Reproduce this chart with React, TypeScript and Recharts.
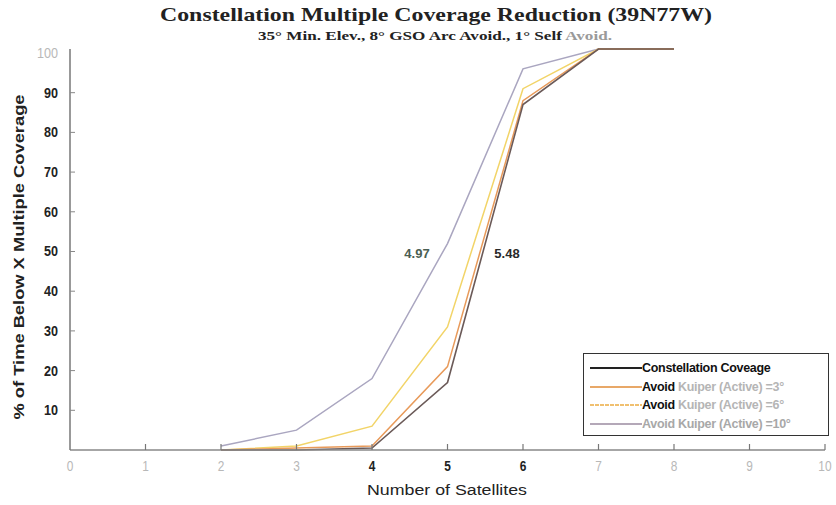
import React from 'react';
import { LineChart, Line, XAxis, YAxis } from 'recharts';

const satellites = [2, 3, 4, 5, 6, 7, 8];
const constellation = [0, 0, 0.5, 17, 87, 101, 101];
const avoid3 = [0, 0.5, 1, 21, 88, 101, 101];
const avoid6 = [0, 1, 6, 31, 91, 101, 101];
const avoid10 = [1, 5, 18, 52, 96, 101, 101];

const xTicks = [0, 1, 2, 3, 4, 5, 6, 7, 8, 9, 10];
const yTicks = [10, 20, 30, 40, 50, 60, 70, 80, 90, 100];
const darkXTicks = [4, 5, 6];

const NARROW = '"Liberation Sans Narrow", "Arial Narrow", Arial, sans-serif';
const SERIF = '"Liberation Serif", "Times New Roman", serif';

const chartData = satellites.map((n, i) => ({
  n,
  constellation: constellation[i],
  avoid3: avoid3[i],
  avoid6: avoid6[i],
  avoid10: avoid10[i],
}));

const XTick = (props: any) => {
  const { x, y, payload } = props;
  const dark = darkXTicks.includes(payload.value);
  return (
    <g>
      {payload.value > 0 && <line x1={x} y1={y} x2={x} y2={y - 6} stroke="#777" strokeWidth={1.2} />}
      <text
        x={x}
        y={y + 21}
        textAnchor="middle"
        fontFamily={NARROW}
        fontSize={14}
        fontWeight={dark ? 700 : 400}
        fill={dark ? '#222' : '#b8b8b8'}
        transform={`translate(${x} 0) scale(0.85 1) translate(${-x} 0)`}
      >
        {payload.value}
      </text>
    </g>
  );
};

const YTick = (props: any) => {
  const { x, y, payload } = props;
  const faded = payload.value === 100;
  return (
    <g>
      {!faded && <line x1={x} y1={y} x2={x + 5} y2={y} stroke="#888" strokeWidth={1} />}
      <text
        x={x - 12}
        y={y + 5}
        textAnchor="end"
        fontFamily={NARROW}
        fontSize={14}
        fontWeight={faded ? 400 : 700}
        fill={faded ? '#b8b8b8' : '#222'}
        transform={`translate(${x - 12} 0) scale(0.9 1) translate(${-(x - 12)} 0)`}
      >
        {payload.value}
      </text>
    </g>
  );
};

const legendRows = [
  { color: '#222', dash: '', lead: 'Constellation Coveage', rest: '', gray: false },
  { color: '#e8a868', dash: '', lead: 'Avoid', rest: ' Kuiper (Active) =3°', gray: false },
  { color: '#f0c070', dash: '4 1', lead: 'Avoid', rest: ' Kuiper (Active) =6°', gray: false },
  { color: '#b4a8b8', dash: '', lead: 'Avoid Kuiper (Active) =10°', rest: '', gray: true },
];

const LegendBox = () => (
  <div
    style={{
      position: 'absolute',
      left: 583,
      top: 353,
      width: 246,
      height: 83,
      border: '1px solid #333',
      background: '#fff',
      boxSizing: 'border-box',
      padding: '5px 0 0 6px',
    }}
  >
    {legendRows.map((r, i) => (
      <div key={i} style={{ display: 'flex', alignItems: 'center', height: 18.5 }}>
        <svg width={52} height={6}>
          <line x1={0} y1={3} x2={52} y2={3} stroke={r.color} strokeWidth={2} strokeDasharray={r.dash} />
        </svg>
        <span
          style={{
            fontFamily: NARROW,
            fontSize: 12.5,
            fontWeight: 700,
            color: r.gray ? '#a8a8a8' : '#111',
            whiteSpace: 'nowrap',
            letterSpacing: -0.3,
          }}
        >
          {r.lead}
          <span style={{ color: '#b5b5b5' }}>{r.rest}</span>
        </span>
      </div>
    ))}
  </div>
);

export default function App() {
  return (
    <div style={{ position: 'absolute', left: 0, top: 0, width: 836, height: 505, background: '#fff' }}>
      <LineChart
        width={836}
        height={505}
        data={chartData}
        margin={{ top: 49, right: 11, left: 30, bottom: 25 }}
      >
        <XAxis
          dataKey="n"
          type="number"
          domain={[0, 10]}
          ticks={xTicks}
          interval={0}
          axisLine={{ stroke: '#888', strokeWidth: 1.5 }}
          tickLine={false}
          tickSize={0}
          tickMargin={0}
          tick={<XTick />}
          height={30}
        />
        <YAxis
          type="number"
          domain={[0, 101]}
          ticks={yTicks}
          interval={0}
          axisLine={{ stroke: '#777', strokeWidth: 1.5 }}
          tickLine={false}
          tickSize={0}
          tickMargin={0}
          tick={<YTick />}
          width={40}
        />
        <Line dataKey="avoid10" stroke="#aaa6c0" strokeWidth={1.5} dot={false} isAnimationActive={false} />
        <Line dataKey="avoid6" stroke="#f2d468" strokeWidth={1.5} dot={false} isAnimationActive={false} />
        <Line dataKey="avoid3" stroke="#e89a5a" strokeWidth={1.5} dot={false} isAnimationActive={false} />
        <Line dataKey="constellation" stroke="#6b5a58" strokeWidth={1.6} dot={false} isAnimationActive={false} />
      </LineChart>

      <LegendBox />

      <svg width={836} height={505} style={{ position: 'absolute', left: 0, top: 0, pointerEvents: 'none' }}>
        <text x={436} y={21} textAnchor="middle" fontFamily={SERIF} fontWeight={700} fontSize={19} fill="#222" textLength={552} lengthAdjust="spacingAndGlyphs">
          Constellation Multiple Coverage Reduction (39N77W)
        </text>
        <text x={258} y={40} fontFamily={SERIF} fontWeight={700} fontSize={12.5} fill="#222" textLength={354} lengthAdjust="spacingAndGlyphs">
          35° Min. Elev., 8° GSO Arc Avoid., 1° Self <tspan fill="#9a9a9a">Avoid.</tspan>
        </text>
        <text
          x={24}
          y={257}
          textAnchor="middle"
          transform="rotate(-90 24 257)"
          fontFamily={NARROW}
          fontWeight={700}
          fontSize={15}
          fill="#222"
          textLength={325}
          lengthAdjust="spacingAndGlyphs"
        >
          % of Time Below X Multiple Coverage
        </text>
        <text x={447} y={495} textAnchor="middle" fontFamily={NARROW} fontSize={15.5} fill="#222" textLength={160} lengthAdjust="spacingAndGlyphs">
          Number of Satellites
        </text>
        <text x={417} y={258} textAnchor="middle" fontFamily="Arial, sans-serif" fontWeight={700} fontSize={13} fill="#4a5e52">
          4.97
        </text>
        <text x={507} y={258} textAnchor="middle" fontFamily="Arial, sans-serif" fontWeight={700} fontSize={13} fill="#2a2a2a">
          5.48
        </text>
      </svg>
    </div>
  );
}
